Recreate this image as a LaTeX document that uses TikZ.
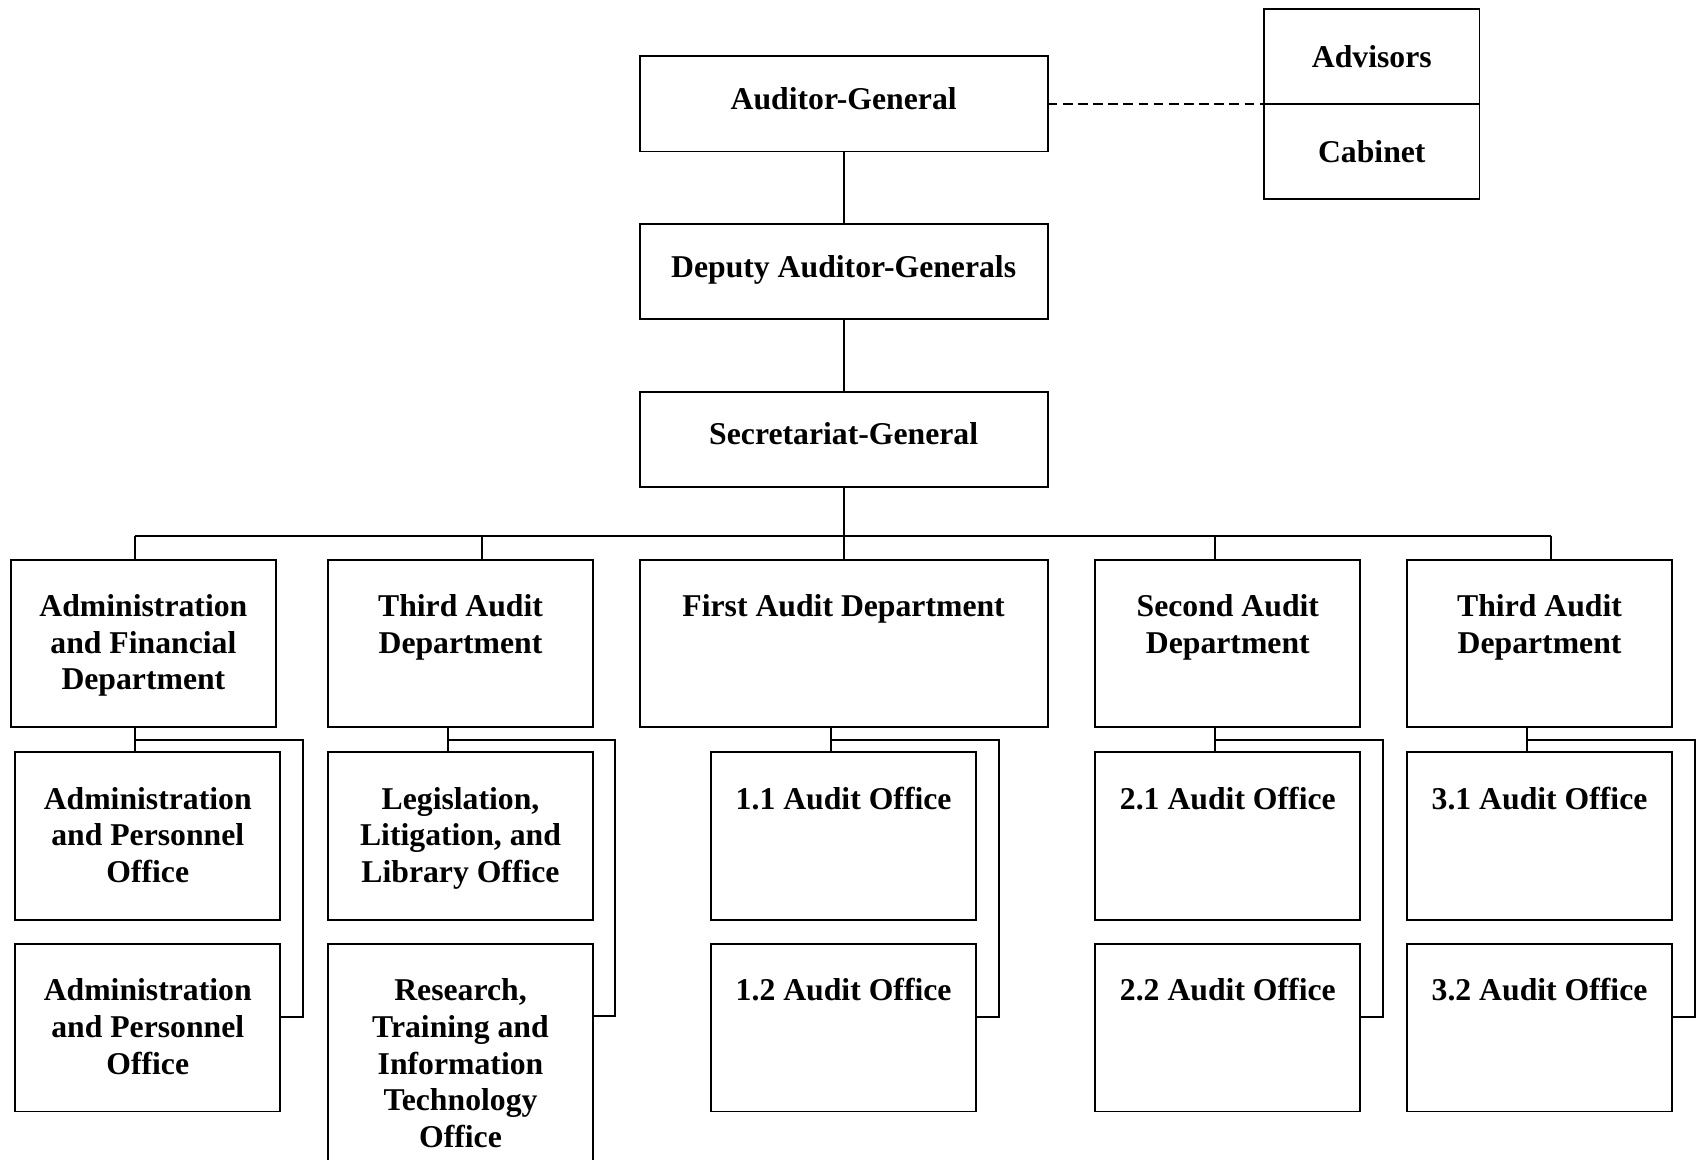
\documentclass[tikz,border=0pt]{standalone}
\usepackage{fontspec}
\setmainfont{Liberation Serif}
\begin{document}
\begin{tikzpicture}[x=1pt,y=-1pt,
 box/.style={draw, line width=1.8pt, inner sep=0pt, outer sep=0pt, rectangle, anchor=north west,
   font=\fontsize{29.3}{34}\selectfont\bfseries, align=center},
 wide/.style={minimum width=377pt, minimum height=88pt, text height=20pt, text depth=10pt},
 dept/.style={minimum width=245pt, minimum height=155pt},
 lbl/.style={inner sep=0pt, anchor=north, font=\fontsize{29.3}{34}\selectfont\bfseries, align=center},
 con/.style={line width=1.8pt},
 dsh/.style={line width=1.8pt, dash pattern=on 9pt off 5pt}]
\useasboundingbox (0,0) rectangle (1568,1071);
\clip (0,0) rectangle (1568,1071);

% top chain
\node[box, wide] (ag) at (591,52) {Auditor-General};
\node[box, wide] (dag) at (591,207) {Deputy Auditor-Generals};
\node[box, wide] (sg) at (591,362) {Secretariat-General};
\node[box, minimum width=199pt, minimum height=88pt] (adv) at (1168,8) {Advisors};
\node[box, minimum width=199pt, minimum height=88pt] (cab) at (1168,96) {Cabinet};

\draw[con] (ag) -- (dag);
\draw[con] (dag) -- (sg);
\draw[dsh] (ag.east) -- (adv.south west);

% departments
\node[box, dept] (adf) at (10,517) {};
\node[lbl] (adft) at ([yshift=-32pt]adf.north) {Administration\\and Financial\\Department};
\node[box, dept] (tdl) at (303,517) {};
\node[lbl] (tdlt) at ([yshift=-32pt]tdl.north) {Third Audit\\Department};
\node[box, minimum width=377pt, minimum height=155pt] (fad) at (591,517) {};
\node[lbl] (fadt) at ([yshift=-32pt]fad.north) {First Audit Department};
\node[box, dept] (sad) at (1012,517) {};
\node[lbl] (sadt) at ([yshift=-32pt]sad.north) {Second Audit\\Department};
\node[box, dept] (tdr) at (1300,517) {};
\node[lbl] (tdrt) at ([yshift=-32pt]tdr.north) {Third Audit\\Department};

% bus
\path (sg.south) ++(0,45) coordinate (bus);
\coordinate (b1) at (125,495);
\coordinate (b2) at (445,495);
\coordinate (b4) at (1123,495);
\coordinate (b5) at (1433,495);
\draw[con] (sg.south) -- (bus);
\draw[con] (b1) -- (b5);
\draw[con] (b1) -- (b1 |- adf.north);
\draw[con] (b2) -- (b2 |- tdl.north);
\draw[con] (bus) -- (bus |- fad.north);
\draw[con] (b4) -- (b4 |- sad.north);
\draw[con] (b5) -- (b5 |- tdr.north);

% sub offices
\node[box, dept] (ap1) at (14,695) {};
\node[lbl] (ap1t) at ([yshift=-32pt]ap1.north) {Administration\\and Personnel\\Office};
\node[box, dept] (ap2) at (14,872) {};
\node[lbl] (ap2t) at ([yshift=-32pt]ap2.north) {Administration\\and Personnel\\Office};

\node[box, dept] (ll) at (303,695) {};
\node[lbl] (llt) at ([yshift=-32pt]ll.north) {Legislation,\\Litigation, and\\Library Office};
\node[box, minimum width=245pt, minimum height=215pt] (rt) at (303,872) {};
\node[lbl] (rtt) at ([yshift=-32pt]rt.north) {Research,\\Training and\\Information\\Technology\\Office};

\node[box, dept] (o11) at (657,695) {};
\node[lbl] (o11t) at ([yshift=-32pt]o11.north) {1.1 Audit Office};
\node[box, dept] (o12) at (657,872) {};
\node[lbl] (o12t) at ([yshift=-32pt]o12.north) {1.2 Audit Office};

\node[box, dept] (o21) at (1012,695) {};
\node[lbl] (o21t) at ([yshift=-32pt]o21.north) {2.1 Audit Office};
\node[box, dept] (o22) at (1012,872) {};
\node[lbl] (o22t) at ([yshift=-32pt]o22.north) {2.2 Audit Office};

\node[box, dept] (o31) at (1300,695) {};
\node[lbl] (o31t) at ([yshift=-32pt]o31.north) {3.1 Audit Office};
\node[box, dept] (o32) at (1300,872) {};
\node[lbl] (o32t) at ([yshift=-32pt]o32.north) {3.2 Audit Office};

% sub connectors
\coordinate (s1) at (125,684);
\draw[con] (s1 |- adf.south) -- (s1 |- ap1.north);
\draw[con] (s1) -- ++(155,0) |- ([yshift=10pt]ap2.east);
\coordinate (s2) at (414,684);
\draw[con] (s2 |- tdl.south) -- (s2 |- ll.north);
\draw[con] (s2) -- ++(154,0) |- ([yshift=-67pt]rt.north east);
\coordinate (s3) at (768,684);
\draw[con] (s3 |- fad.south) -- (s3 |- o11.north);
\draw[con] (s3) -- ++(155,0) |- ([yshift=10pt]o12.east);
\coordinate (s4) at (1123,684);
\draw[con] (s4 |- sad.south) -- (s4 |- o21.north);
\draw[con] (s4) -- ++(155,0) |- ([yshift=10pt]o22.east);
\coordinate (s5) at (1411,684);
\draw[con] (s5 |- tdr.south) -- (s5 |- o31.north);
\draw[con] (s5) -- ++(155,0) |- ([yshift=10pt]o32.east);
\end{tikzpicture}
\end{document}
